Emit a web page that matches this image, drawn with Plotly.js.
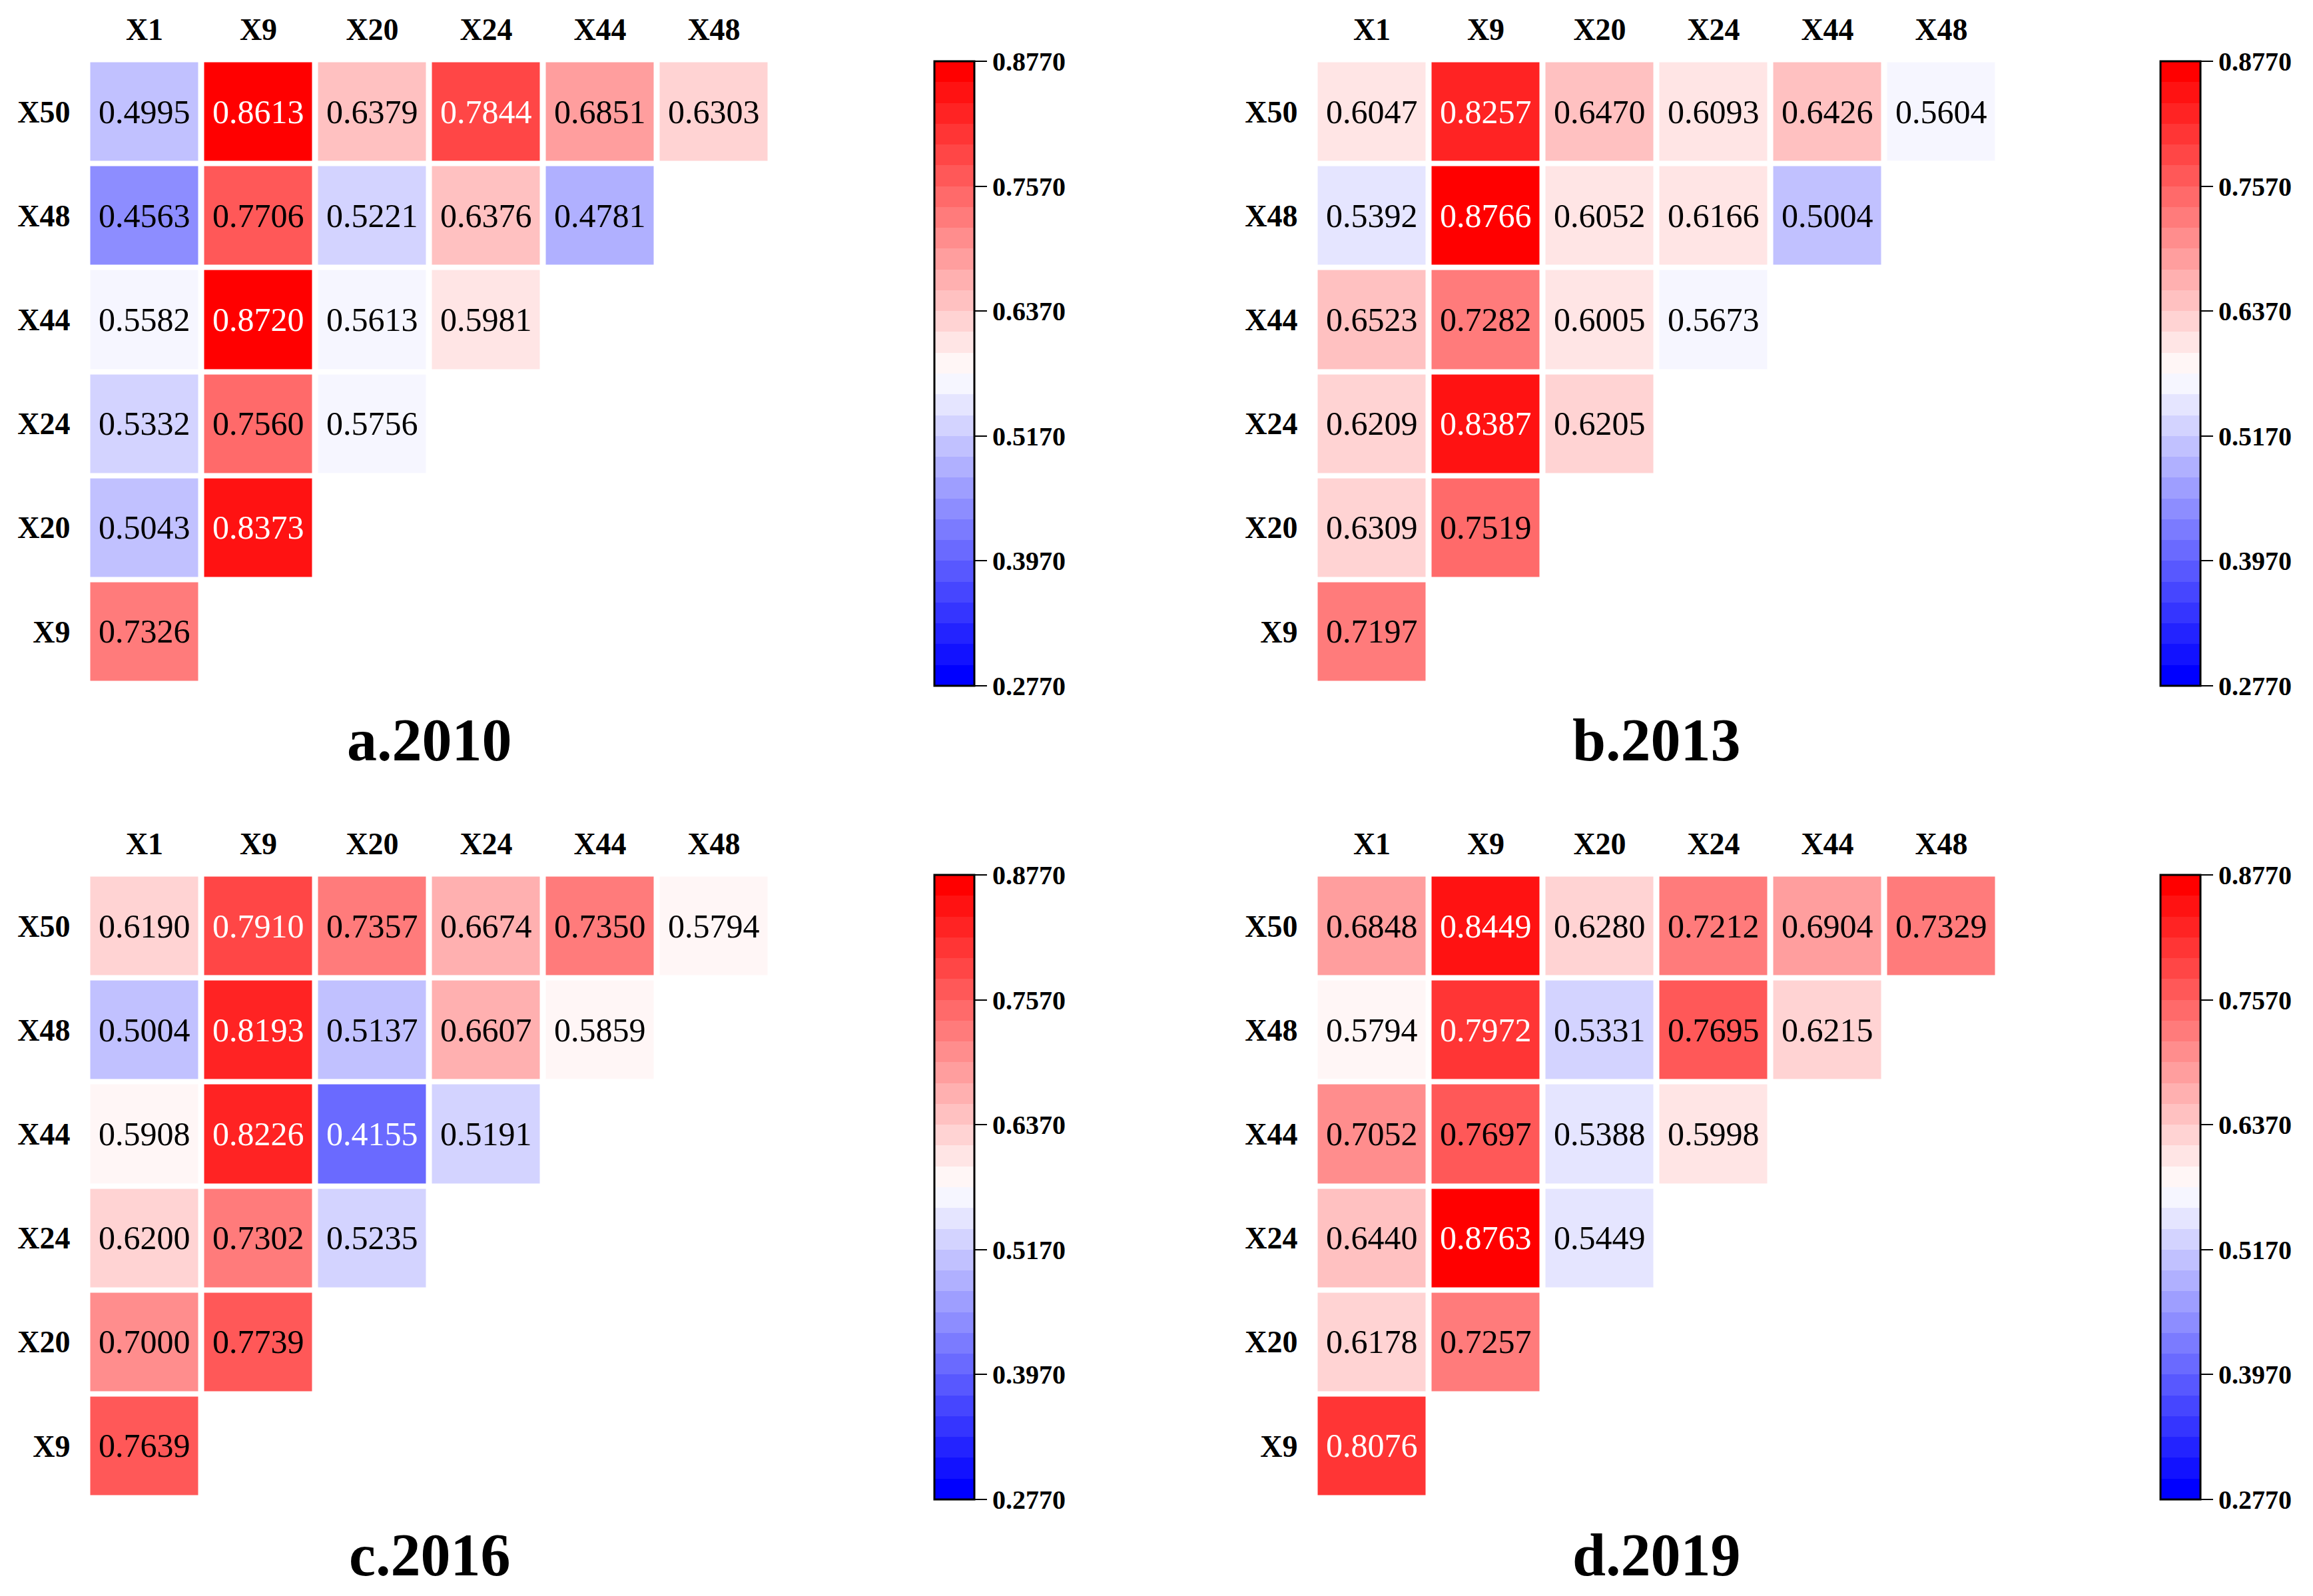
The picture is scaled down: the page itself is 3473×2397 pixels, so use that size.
<!DOCTYPE html>
<html>
<head>
<meta charset="utf-8">
<script src="https://cdn.plot.ly/plotly-3.0.1.min.js"></script>
<style>html,body{margin:0;padding:0;background:#fff;}#chart{width:3473px;height:2397px;}</style>
</head>
<body>
<div id="chart"></div>
<script>
// ---- data ----
const colLabels = ['X1', 'X9', 'X20', 'X24', 'X44', 'X48'];
const rowLabels = ['X50', 'X48', 'X44', 'X24', 'X20', 'X9'];

const z2010 = [
  [0.4995, 0.8613, 0.6379, 0.7844, 0.6851, 0.6303],
  [0.4563, 0.7706, 0.5221, 0.6376, 0.4781, null],
  [0.5582, 0.8720, 0.5613, 0.5981, null, null],
  [0.5332, 0.7560, 0.5756, null, null, null],
  [0.5043, 0.8373, null, null, null, null],
  [0.7326, null, null, null, null, null]
];
const z2013 = [
  [0.6047, 0.8257, 0.6470, 0.6093, 0.6426, 0.5604],
  [0.5392, 0.8766, 0.6052, 0.6166, 0.5004, null],
  [0.6523, 0.7282, 0.6005, 0.5673, null, null],
  [0.6209, 0.8387, 0.6205, null, null, null],
  [0.6309, 0.7519, null, null, null, null],
  [0.7197, null, null, null, null, null]
];
const z2016 = [
  [0.6190, 0.7910, 0.7357, 0.6674, 0.7350, 0.5794],
  [0.5004, 0.8193, 0.5137, 0.6607, 0.5859, null],
  [0.5908, 0.8226, 0.4155, 0.5191, null, null],
  [0.6200, 0.7302, 0.5235, null, null, null],
  [0.7000, 0.7739, null, null, null, null],
  [0.7639, null, null, null, null, null]
];
const z2019 = [
  [0.6848, 0.8449, 0.6280, 0.7212, 0.6904, 0.7329],
  [0.5794, 0.7972, 0.5331, 0.7695, 0.6215, null],
  [0.7052, 0.7697, 0.5388, 0.5998, null, null],
  [0.6440, 0.8763, 0.5449, null, null, null],
  [0.6178, 0.7257, null, null, null, null],
  [0.8076, null, null, null, null, null]
];
const panelTitles = ['a.2010', 'b.2013', 'c.2016', 'd.2019'];
const zMin = 0.277, zMax = 0.877;
const cbTicks = [0.277, 0.397, 0.517, 0.637, 0.757, 0.877];
const nLevels = 30;

// ---- discrete blue-white-red colorscale ----
function bwrRGB(t) {
  let r, g, b;
  if (t < 0.5) { r = 2 * t; g = 2 * t; b = 1; }
  else { r = 1; g = 2 * (1 - t); b = 2 * (1 - t); }
  return [Math.round(r * 255), Math.round(g * 255), Math.round(b * 255)];
}
function rgbStr(c) { return 'rgb(' + c[0] + ',' + c[1] + ',' + c[2] + ')'; }
const colorscale = [];
for (let i = 0; i < nLevels; i++) {
  const c = rgbStr(bwrRGB(i / (nLevels - 1)));
  colorscale.push([i / nLevels, c]);
  colorscale.push([(i + 1) / nLevels, c]);
}
function textColorFor(v) {
  let idx = Math.floor((v - zMin) / (zMax - zMin) * nLevels);
  idx = Math.max(0, Math.min(nLevels - 1, idx));
  const c = bwrRGB(idx / (nLevels - 1));
  const bright = (c[0] * 299 + c[1] * 587 + c[2] * 114) / 1000;
  return bright > 128 ? '#000000' : '#ffffff';
}

const W = 3473, H = 2397;
const serif = 'Liberation Serif, Times New Roman, serif';
// pixel geometry
const xDomPx = [[131.5, 1157.5], [1974.5, 3000.5]];
const yDomPx = [[89.5, 1026.5], [1312.5, 2249.5]];
const cbLeftPx = [1403, 3244];
const cbCenterPx = [561, 1783];
const titleYPx = [1112, 2335];

const zs = [z2010, z2013, z2016, z2019];
const traces = [];
const layout = {
  width: W, height: H,
  margin: {l: 0, r: 0, t: 0, b: 0},
  paper_bgcolor: '#fff', plot_bgcolor: '#fff',
  showlegend: false,
  annotations: []
};

zs.forEach((z, k) => {
  const col = k % 2, row = Math.floor(k / 2);
  const ax = k === 0 ? '' : String(k + 1);
  traces.push({
    type: 'heatmap',
    x: colLabels, y: rowLabels, z: z,
    xaxis: 'x' + ax, yaxis: 'y' + ax,
    zmin: zMin, zmax: zMax,
    colorscale: colorscale,
    xgap: 9, ygap: 8,
    hoverongaps: false,
    showscale: true,
    colorbar: {
      x: cbLeftPx[col] / W, xanchor: 'left', xpad: 0,
      y: 1 - cbCenterPx[row] / H, yanchor: 'middle', ypad: 0,
      lenmode: 'pixels', len: 938,
      thicknessmode: 'pixels', thickness: 60,
      outlinewidth: 3, outlinecolor: '#000',
      tickmode: 'array', tickvals: cbTicks,
      ticktext: cbTicks.map(v => v.toFixed(4)),
      ticks: 'outside', ticklen: 18, tickwidth: 2, tickcolor: '#000',
      tickfont: {family: serif, size: 40, color: '#000', weight: 'bold'}
    }
  });
  // value labels as annotations on the data axes
  z.forEach((rowVals, i) => rowVals.forEach((v, j) => {
    if (v === null) return;
    layout.annotations.push({
      text: v.toFixed(4),
      xref: 'x' + ax, yref: 'y' + ax,
      x: colLabels[j], y: rowLabels[i],
      xanchor: 'center', yanchor: 'middle',
      yshift: 0,
      showarrow: false,
      font: {family: serif, size: 50, color: textColorFor(v)}
    });
  }));
  layout['xaxis' + ax] = {
    domain: [xDomPx[col][0] / W, xDomPx[col][1] / W],
    anchor: 'y' + ax, side: 'top',
    type: 'category', categoryorder: 'array', categoryarray: colLabels,
    range: [-0.5, 5.5],
    showgrid: false, zeroline: false, showline: false, ticks: '',
    ticklabelstandoff: 19,
    tickfont: {family: serif, size: 46, color: '#000', weight: 'bold'},
    fixedrange: true
  };
  layout['yaxis' + ax] = {
    domain: [1 - yDomPx[row][1] / H, 1 - yDomPx[row][0] / H],
    anchor: 'x' + ax,
    type: 'category', categoryorder: 'array', categoryarray: rowLabels,
    range: [5.5, -0.5],
    showgrid: false, zeroline: false, showline: false, ticks: '',
    ticklabelstandoff: 25,
    tickfont: {family: serif, size: 46, color: '#000', weight: 'bold'},
    fixedrange: true
  };
  layout.annotations.push({
    text: panelTitles[k],
    xref: 'paper', yref: 'paper',
    x: (xDomPx[col][0] + xDomPx[col][1]) / 2 / W,
    y: 1 - titleYPx[row] / H,
    xanchor: 'center', yanchor: 'middle',
    showarrow: false,
    font: {family: serif, size: 90, color: '#000', weight: 'bold'}
  });
});

Plotly.newPlot('chart', traces, layout, {staticPlot: true, displayModeBar: false});
</script>
</body>
</html>
